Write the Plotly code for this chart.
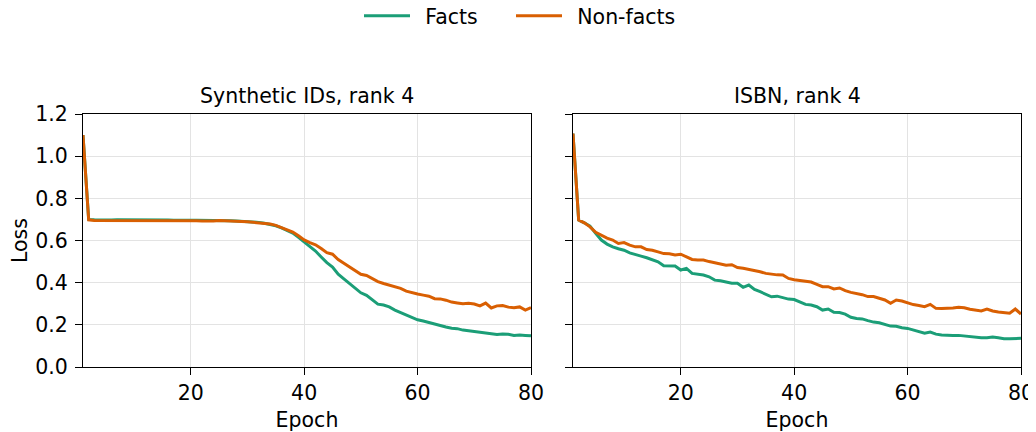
import plotly.graph_objects as go

epochs = list(range(1, 81))

synthetic_facts = [
    1.10, 0.700, 0.698, 0.697, 0.697, 0.697, 0.698, 0.698, 0.699, 0.700,
    0.698, 0.698, 0.698, 0.697, 0.697, 0.697, 0.696, 0.697, 0.698, 0.696,
    0.696, 0.696, 0.695, 0.696, 0.697, 0.695, 0.694, 0.693, 0.692, 0.690,
    0.689, 0.686, 0.682, 0.677, 0.670, 0.660, 0.648, 0.635, 0.615, 0.592,
    0.570, 0.550, 0.522, 0.495, 0.474, 0.440, 0.418, 0.396, 0.372, 0.352,
    0.340, 0.320, 0.298, 0.294, 0.285, 0.270, 0.258, 0.248, 0.235, 0.224,
    0.218, 0.212, 0.205, 0.197, 0.190, 0.184, 0.182, 0.175, 0.172, 0.168,
    0.165, 0.161, 0.158, 0.154, 0.156, 0.155, 0.150, 0.152, 0.150, 0.148,
]
synthetic_nonfacts = [
    1.10, 0.698, 0.695, 0.695, 0.694, 0.694, 0.695, 0.695, 0.696, 0.697,
    0.696, 0.695, 0.695, 0.694, 0.694, 0.694, 0.694, 0.694, 0.695, 0.694,
    0.694, 0.693, 0.692, 0.693, 0.695, 0.693, 0.692, 0.691, 0.690, 0.689,
    0.687, 0.684, 0.681, 0.678, 0.672, 0.662, 0.652, 0.640, 0.622, 0.603,
    0.590, 0.580, 0.562, 0.542, 0.535, 0.510, 0.492, 0.476, 0.458, 0.440,
    0.434, 0.418, 0.405, 0.396, 0.389, 0.382, 0.373, 0.360, 0.352, 0.346,
    0.341, 0.336, 0.324, 0.323, 0.317, 0.308, 0.304, 0.300, 0.302, 0.299,
    0.290, 0.303, 0.280, 0.290, 0.292, 0.284, 0.281, 0.285, 0.270, 0.282,
]
isbn_facts = [
    1.107, 0.697, 0.684, 0.668, 0.634, 0.602, 0.583, 0.570, 0.561, 0.554,
    0.541, 0.535, 0.526, 0.518, 0.510, 0.499, 0.480, 0.479, 0.479, 0.460,
    0.468, 0.444, 0.440, 0.436, 0.428, 0.412, 0.409, 0.403, 0.397, 0.397,
    0.378, 0.389, 0.368, 0.357, 0.346, 0.333, 0.336, 0.330, 0.322, 0.320,
    0.310, 0.297, 0.294, 0.286, 0.270, 0.275, 0.259, 0.258, 0.251, 0.236,
    0.230, 0.228, 0.220, 0.213, 0.210, 0.202, 0.194, 0.193, 0.186, 0.183,
    0.175, 0.167, 0.160, 0.166, 0.156, 0.152, 0.150, 0.150, 0.150, 0.147,
    0.144, 0.142, 0.139, 0.139, 0.142, 0.139, 0.134, 0.134, 0.136, 0.136,
]
isbn_nonfacts = [
    1.107, 0.697, 0.684, 0.665, 0.639, 0.624, 0.611, 0.602, 0.586, 0.590,
    0.578, 0.570, 0.570, 0.557, 0.554, 0.546, 0.538, 0.537, 0.531, 0.535,
    0.523, 0.510, 0.507, 0.507, 0.500, 0.494, 0.488, 0.483, 0.485, 0.472,
    0.468, 0.463, 0.460, 0.452, 0.444, 0.440, 0.437, 0.436, 0.420, 0.414,
    0.410, 0.405, 0.403, 0.392, 0.381, 0.381, 0.370, 0.375, 0.362, 0.354,
    0.350, 0.343, 0.334, 0.334, 0.326, 0.318, 0.302, 0.318, 0.313, 0.305,
    0.296, 0.292, 0.286, 0.297, 0.278, 0.277, 0.277, 0.280, 0.283, 0.281,
    0.274, 0.270, 0.266, 0.275, 0.266, 0.261, 0.258, 0.255, 0.275, 0.251,
]

panel_titles = ["Synthetic IDs, rank 4", "ISBN, rank 4"]
series_names = ["Facts", "Non-facts"]
colors = ["#1b9e77", "#d95f02"]
x_ticks = [20, 40, 60, 80]
y_ticks = [0.0, 0.2, 0.4, 0.6, 0.8, 1.0, 1.2]

FONT = "DejaVu Sans"
FS = 20.5
OFF = 8  # page body margin offset
W, H = 1036 - OFF, 432 - OFF

def px_x(p):
    return (p - OFF) / W

def px_y(p):
    return (H - (p - OFF)) / H

font = dict(family=FONT, size=FS, color="black")
legend_ids = ["legend", "legend2"]
legend_left_px = [364, 516]  # screen x where each legend line begins

fig = go.Figure()
panels = [(synthetic_facts, synthetic_nonfacts), (isbn_facts, isbn_nonfacts)]
for i, (f, nf) in enumerate(panels):
    xa = "x" if i == 0 else "x2"
    ya = "y" if i == 0 else "y2"
    for j, vals in enumerate([f, nf]):
        fig.add_trace(go.Scatter(
            x=epochs, y=vals, mode="lines", name="\u2002" + series_names[j],
            line=dict(color=colors[j], width=3),
            xaxis=xa, yaxis=ya, showlegend=(i == 0), legend=legend_ids[j],
        ))

common_x = dict(
    range=[1, 80], tickvals=x_ticks, ticks="outside", ticklen=7, tickwidth=1.2,
    tickcolor="black", showline=True, linecolor="black", linewidth=1.3, mirror=True,
    showgrid=True, gridcolor="#e3e3e3", gridwidth=1, zeroline=False,
    tickfont=font, automargin=False,
    title=dict(text="Epoch", font=font, standoff=8),
)
common_y = dict(
    range=[0, 1.2], tickvals=y_ticks, tickformat=".1f", ticks="outside", ticklen=7,
    tickwidth=1.2, tickcolor="black", showline=True, linecolor="black", linewidth=1.3,
    mirror=True, showgrid=True, gridcolor="#e3e3e3", gridwidth=1, zeroline=False,
    tickfont=font, automargin=False, ticklabelstandoff=3,
)

legend_common = dict(orientation="h", xanchor="left", xref="container",
                     y=px_y(16), yanchor="middle", yref="container",
                     font=font, itemwidth=46, bgcolor="rgba(0,0,0,0)")

fig.update_layout(
    width=W, height=H,
    margin=dict(l=0, r=0, t=0, b=0, autoexpand=False),
    paper_bgcolor="white", plot_bgcolor="white",
    xaxis=dict(domain=[px_x(83), px_x(531)], anchor="y", **common_x),
    xaxis2=dict(domain=[px_x(573), px_x(1021)], anchor="y2", **common_x),
    yaxis=dict(domain=[px_y(367), px_y(114)], anchor="x",
               title=dict(text="Loss", font=font, standoff=11),
               **common_y),
    yaxis2=dict(domain=[px_y(367), px_y(114)], anchor="x2", showticklabels=False, **common_y),
    legend=dict(x=px_x(legend_left_px[0] - 5), **legend_common),
    legend2=dict(x=px_x(legend_left_px[1] - 5), **legend_common),
    showlegend=True,
)

for i, t in enumerate(panel_titles):
    cx = (83 + 531) / 2 if i == 0 else (573 + 1021) / 2
    fig.add_annotation(text=t, x=px_x(cx), y=px_y(96), xref="paper", yref="paper",
                       xanchor="center", yanchor="middle", showarrow=False,
                       font=font)

fig.write_html("out.html")
